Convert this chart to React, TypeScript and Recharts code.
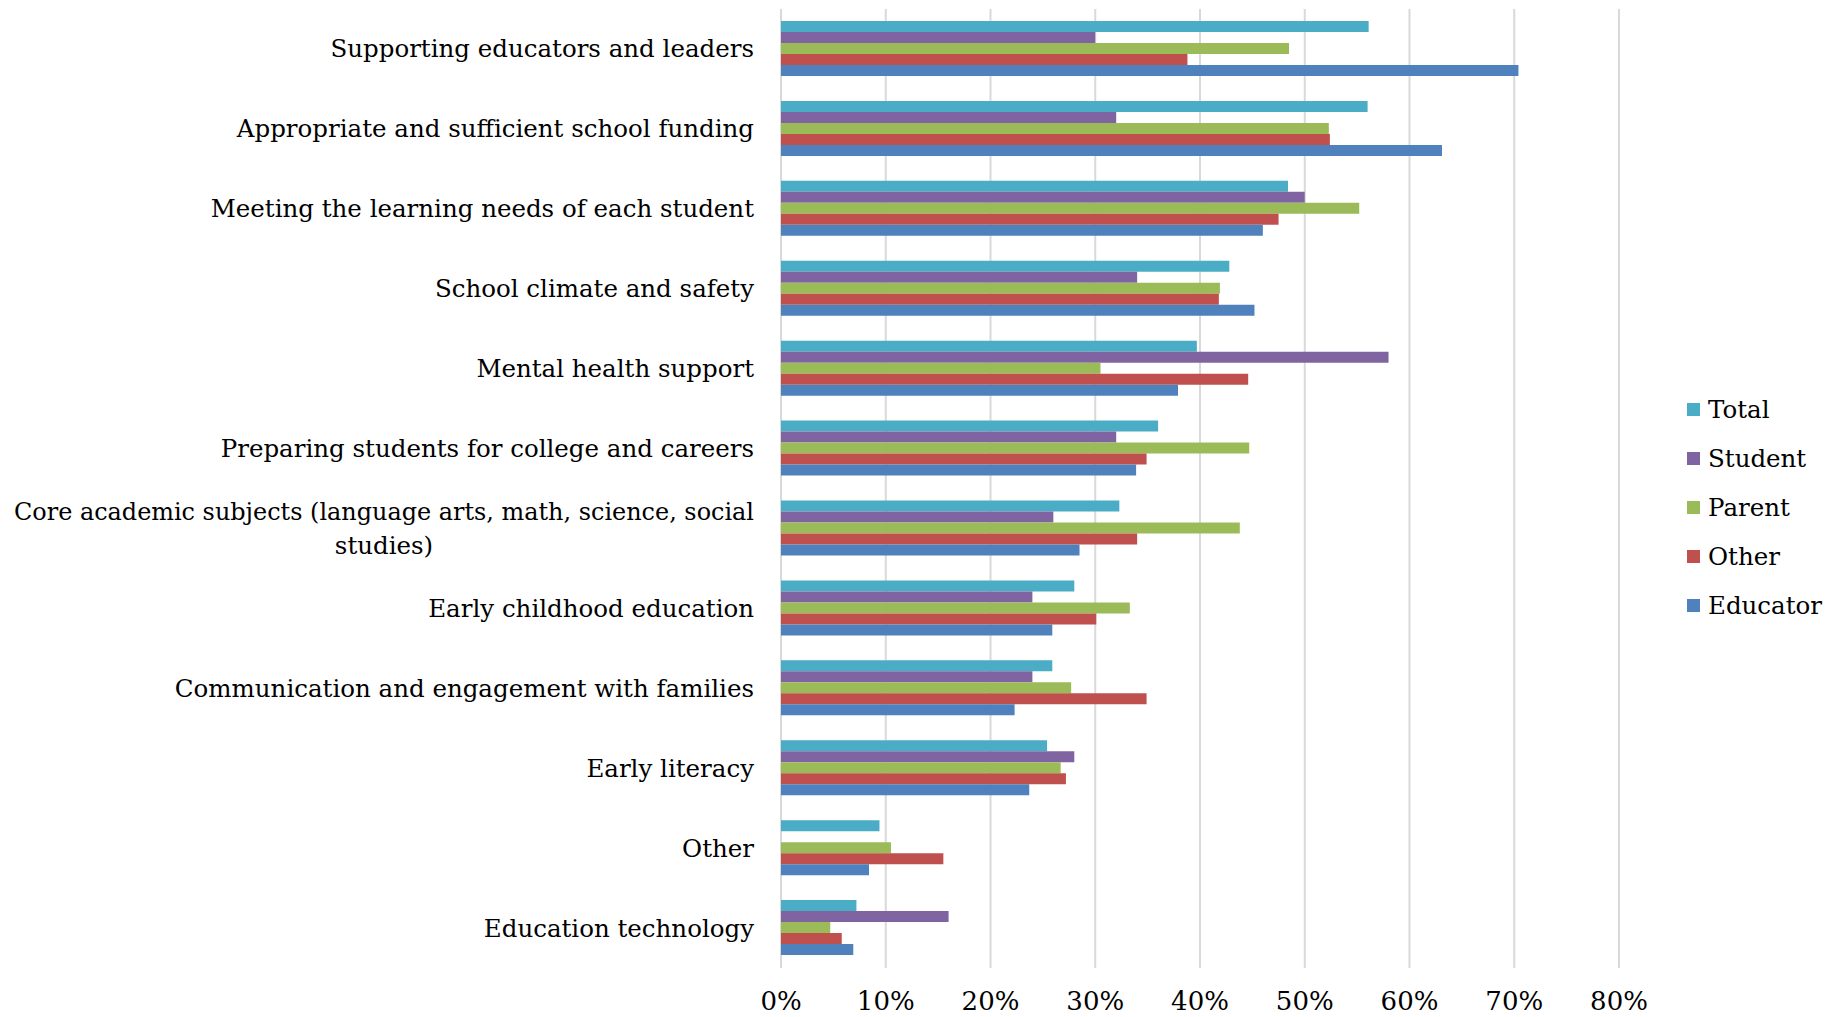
import React from 'react';
import { BarChart, Bar, XAxis, YAxis, CartesianGrid } from 'recharts';

const categories = [
  'Supporting educators and leaders',
  'Appropriate and sufficient school funding',
  'Meeting the learning needs of each student',
  'School climate and safety',
  'Mental health support',
  'Preparing students for college and careers',
  'Core academic subjects (language arts, math, science, social studies)',
  'Early childhood education',
  'Communication and engagement with families',
  'Early literacy',
  'Other',
  'Education technology',
];

const totalValues = [56.1, 56.0, 48.4, 42.8, 39.7, 36.0, 32.3, 28.0, 25.9, 25.4, 9.4, 7.2];
const studentValues = [30.0, 32.0, 50.0, 34.0, 58.0, 32.0, 26.0, 24.0, 24.0, 28.0, null, 16.0];
const parentValues = [48.5, 52.3, 55.2, 41.9, 30.5, 44.7, 43.8, 33.3, 27.7, 26.7, 10.5, 4.7];
const otherValues = [38.8, 52.4, 47.5, 41.8, 44.6, 34.9, 34.0, 30.1, 34.9, 27.2, 15.5, 5.8];
const educatorValues = [70.4, 63.1, 46.0, 45.2, 37.9, 33.9, 28.5, 25.9, 22.3, 23.7, 8.4, 6.9];

const xTicks = [0, 10, 20, 30, 40, 50, 60, 70, 80];

const seriesDefs = [
  { key: 'Total', color: '#4BACC6' },
  { key: 'Student', color: '#8064A2' },
  { key: 'Parent', color: '#9BBB59' },
  { key: 'Other', color: '#C0504D' },
  { key: 'Educator', color: '#4F81BD' },
];

const data = categories.map((c, i) => ({
  category: c,
  Total: totalValues[i],
  Student: studentValues[i],
  Parent: parentValues[i],
  Other: otherValues[i],
  Educator: educatorValues[i],
}));

const FONT = '"DejaVu Serif", serif';
const LABEL_SIZE = 24.5;
const WRAP_WIDTH = 820;
const FIT_WIDTH = 740;

let ctx: CanvasRenderingContext2D | null = null;
function measure(text: string): number {
  if (!ctx) {
    const c = document.createElement('canvas');
    ctx = c.getContext('2d');
  }
  if (!ctx) return text.length * LABEL_SIZE * 0.55;
  ctx.font = `${LABEL_SIZE}px ${FONT}`;
  return ctx.measureText(text).width;
}

function wrap(text: string): string[] {
  const words = text.split(' ');
  const lines: string[] = [];
  let cur = '';
  for (const w of words) {
    const test = cur ? cur + ' ' + w : w;
    if (measure(test) > WRAP_WIDTH && cur) {
      lines.push(cur);
      cur = w;
    } else {
      cur = test;
    }
  }
  if (cur) lines.push(cur);
  return lines;
}

const CategoryTick = (props: any) => {
  const { x, y, payload } = props;
  const lines = wrap(String(payload.value));
  if (lines.length === 1) {
    return (
      <text x={x} y={y} textAnchor="end" dominantBaseline="central" fontFamily={FONT} fontSize={LABEL_SIZE} fill="#000">
        {lines[0]}
      </text>
    );
  }
  const widths = lines.map((l) => Math.min(measure(l), FIT_WIDTH));
  const maxW = Math.max(...widths);
  const cx = x - maxW / 2;
  const lh = 34;
  const startY = y - ((lines.length - 1) * lh) / 2;
  return (
    <g>
      {lines.map((l, i) => {
        const over = measure(l) > FIT_WIDTH;
        return (
          <text
            key={i}
            x={cx}
            y={startY + i * lh}
            textAnchor="middle"
            dominantBaseline="central"
            fontFamily={FONT}
            fontSize={LABEL_SIZE}
            fill="#000"
            {...(over ? { textLength: FIT_WIDTH, lengthAdjust: 'spacingAndGlyphs' } : {})}
          >
            {l}
          </text>
        );
      })}
    </g>
  );
};

const LegendBox = () => (
  <div style={{ position: 'absolute', left: 1679, top: 377, fontFamily: FONT, fontSize: LABEL_SIZE, color: '#000' }}>
    {seriesDefs.map((s) => (
      <div key={s.key} style={{ display: 'flex', alignItems: 'center', height: 49 }}>
        <div style={{ width: 13, height: 13, background: s.color, marginRight: 8 }} />
        <span>{s.key}</span>
      </div>
    ))}
  </div>
);

export default function App() {
  return (
    <div style={{ position: 'relative', width: 1821, height: 1009, background: '#fff' }}>
      <BarChart
        width={1821}
        height={1009}
        data={data}
        layout="vertical"
        margin={{ top: 1, right: 210, bottom: 0, left: 0 }}
        barSize={11}
        barGap={0}
      >
        <CartesianGrid horizontal={false} stroke="#D9D9D9" strokeWidth={2} />
        <XAxis
          type="number"
          domain={[0, 80]}
          ticks={xTicks}
          tickFormatter={(v: number) => `${v}%`}
          axisLine={false}
          tickLine={false}
          tickSize={0}
          tickMargin={24}
          height={49}
          interval={0}
          tick={{ fontFamily: FONT, fontSize: 26, fill: '#000' }}
        />
        <YAxis
          type="category"
          dataKey="category"
          width={773}
          axisLine={false}
          tickLine={false}
          tickSize={0}
          tickMargin={27}
          interval={0}
          tick={<CategoryTick />}
        />
        {seriesDefs.map((s) => (
          <Bar key={s.key} dataKey={s.key} fill={s.color} isAnimationActive={false} />
        ))}
      </BarChart>
      <LegendBox />
    </div>
  );
}
